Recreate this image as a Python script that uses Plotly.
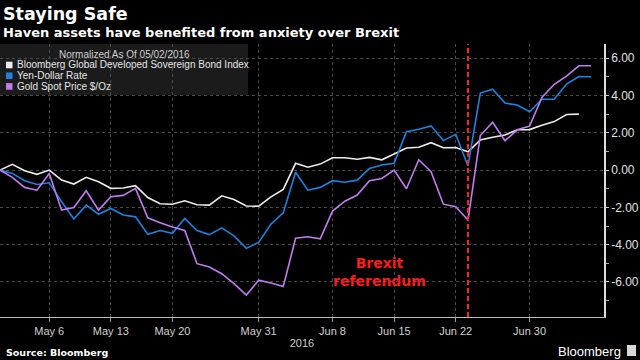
import plotly.graph_objects as go

# ---------------- data ----------------
dates = [
    "2016-05-02", "2016-05-03", "2016-05-04", "2016-05-05", "2016-05-06",
    "2016-05-09", "2016-05-10", "2016-05-11", "2016-05-12", "2016-05-13",
    "2016-05-16", "2016-05-17", "2016-05-18", "2016-05-19", "2016-05-20",
    "2016-05-23", "2016-05-24", "2016-05-25", "2016-05-26", "2016-05-27",
    "2016-05-30", "2016-05-31", "2016-06-01", "2016-06-02", "2016-06-03",
    "2016-06-06", "2016-06-07", "2016-06-08", "2016-06-09", "2016-06-10",
    "2016-06-13", "2016-06-14", "2016-06-15", "2016-06-16", "2016-06-17",
    "2016-06-20", "2016-06-21", "2016-06-22", "2016-06-23", "2016-06-24",
    "2016-06-27", "2016-06-28", "2016-06-29", "2016-06-30", "2016-07-01",
    "2016-07-04", "2016-07-05", "2016-07-06", "2016-07-07",
]

bond_index = [
    0.00, 0.31, -0.04, -0.23, 0.00, -0.54, -0.75, -0.39, -0.63, -0.98,
    -0.96, -0.84, -1.47, -1.81, -1.83, -1.65, -1.86, -1.88, -1.38, -1.58,
    -1.93, -1.94, -1.44, -1.04, 0.36, 0.15, 0.32, 0.66, 0.66, 0.58,
    0.68, 0.55, 0.86, 1.18, 1.22, 1.47, 1.20, 1.21, 0.98, 1.61,
    1.76, 1.88, 2.16, 2.17, 2.40, 2.60, 2.98, 3.00, None,
]

yen_dollar = [
    0.00, -0.18, -0.57, -0.77, -0.68, -1.70, -2.62, -1.88, -2.37, -2.06,
    -2.41, -2.51, -3.44, -3.24, -3.39, -2.60, -3.24, -3.46, -3.10, -3.53,
    -4.20, -3.88, -2.90, -2.29, -0.12, -1.08, -0.93, -0.57, -0.65, -0.54,
    0.09, 0.27, 0.36, 2.06, 2.19, 2.37, 1.58, 1.92, 0.22, 4.13,
    4.34, 3.59, 3.49, 3.13, 3.80, 3.80, 4.61, 5.02, 5.00,
]

gold_spot = [
    0.00, -0.39, -0.93, -1.08, -0.18, -2.15, -2.01, -1.11, -2.15, -1.43,
    -1.36, -0.98, -2.56, -2.83, -3.05, -3.24, -5.02, -5.20, -5.56, -6.09,
    -6.70, -5.91, -6.06, -6.24, -3.66, -3.58, -3.69, -2.20, -1.67, -1.34,
    -0.57, -0.45, 0.00, -1.00, 0.55, -0.09, -1.83, -1.97, -2.68, 1.85,
    2.56, 1.57, 2.16, 2.36, 3.89, 4.60, 5.04, 5.59, 5.59,
]

series_names = [
    "Bloomberg Global Developed Sovereign Bond Index",
    "Yen-Dollar Rate",
    "Gold Spot Price $/Oz",
]
series_colors = ["#ececec", "#1a84e0", "#c27cf0"]

x_tick_vals = ["2016-05-06", "2016-05-13", "2016-05-20", "2016-05-31",
               "2016-06-08", "2016-06-15", "2016-06-22", "2016-06-30"]
x_tick_text = ["May 6", "May 13", "May 20", "May 31",
               "Jun 8", "Jun 15", "Jun 22", "Jun 30"]
y_tick_vals = [-6, -4, -2, 0, 2, 4, 6]
y_tick_text = ["-6.00", "-4.00", "-2.00", "0.00", "2.00", "4.00", "6.00"]
y_minor_vals = [-7, -5, -3, -1, 1, 3, 5]
brexit_date = "2016-06-23"

title = "Staying Safe"
subtitle = "Haven assets have benefited from anxiety over Brexit"
legend_title = "Normalized As Of 05/02/2016"
source_text = "Source: Bloomberg"

# ---------------- geometry helpers ----------------
W, H = 640, 360
L, R, T, B = 0, 604, 44, 317


def px(x):
    return (x - L) / (R - L)


def py(y):
    return (B - y) / (B - T)


fig = go.Figure()
for vals, name, col in zip([bond_index, yen_dollar, gold_spot], series_names, series_colors):
    fig.add_trace(go.Scatter(
        x=dates, y=vals, name=name, mode="lines",
        line=dict(color=col, width=1.6), showlegend=False,
        connectgaps=False,
    ))

shapes = []
annotations = []

# legend box (manual, to match compact Bloomberg legend)
shapes.append(dict(type="rect", xref="paper", yref="paper",
                   x0=px(0), x1=px(248), y0=py(95), y1=py(44),
                   fillcolor="rgba(30,30,30,0.9)", line=dict(width=0), layer="below"))
annotations.append(dict(xref="paper", yref="paper", x=px(124), y=py(55),
                        text=legend_title, showarrow=False, xanchor="center", yanchor="middle",
                        font=dict(family="Liberation Sans", size=10, color="#d0d0d0")))
row_y = [65, 75.7, 86.4]
for name, col, ry in zip(series_names, series_colors, row_y):
    shapes.append(dict(type="rect", xref="paper", yref="paper",
                       x0=px(6), x1=px(12.5), y0=py(ry + 3.3), y1=py(ry - 3.3),
                       fillcolor=col, line=dict(width=0), layer="above"))
    annotations.append(dict(xref="paper", yref="paper", x=px(14.5), y=py(ry),
                            text=name, showarrow=False, xanchor="left", yanchor="middle",
                            font=dict(family="Liberation Sans", size=10, color="#e6e6e6")))

# Brexit referendum line
shapes.append(dict(type="line", xref="x", yref="paper", x0=brexit_date, x1=brexit_date,
                   y0=0, y1=1, line=dict(color="#ff1f2f", width=2, dash="5px,3px"), layer="above"))
annotations.append(dict(xref="paper", yref="paper", x=px(379), y=py(272),
                        text="<b>Brexit<br>referendum</b>", showarrow=False,
                        xanchor="center", yanchor="middle", align="center",
                        font=dict(family="DejaVu Sans", size=14, color="#ff1a1a")))

# titles
annotations.append(dict(xref="paper", yref="paper", x=px(1), y=py(14),
                        text="<b>" + title + "</b>", showarrow=False, xanchor="left", yanchor="middle",
                        font=dict(family="DejaVu Sans", size=17.5, color="#ffffff")))
annotations.append(dict(xref="paper", yref="paper", x=px(1), y=py(33),
                        text="<b>" + subtitle + "</b>", showarrow=False, xanchor="left", yanchor="middle",
                        font=dict(family="DejaVu Sans", size=13, color="#ffffff")))
# footer
annotations.append(dict(xref="paper", yref="paper", x=px(4), y=py(352),
                        text="<b>" + source_text + "</b>", showarrow=False, xanchor="left", yanchor="middle",
                        font=dict(family="DejaVu Sans", size=9.5, color="#ffffff")))
annotations.append(dict(xref="paper", yref="paper", x=px(623), y=py(351),
                        text="Bloomberg", showarrow=False, xanchor="right", yanchor="middle",
                        font=dict(family="Liberation Sans", size=13, color="#ffffff")))
shapes.append(dict(type="rect", xref="paper", yref="paper",
                   x0=px(627), x1=px(636), y0=py(356), y1=py(345),
                   fillcolor="#d8d8d8", line=dict(width=0), layer="above"))

fig.update_layout(
    width=W, height=H,
    margin=dict(l=L, r=W - R, t=T, b=H - B, pad=0),
    paper_bgcolor="#000000", plot_bgcolor="rgba(0,0,0,0)",
    showlegend=False,
    shapes=shapes, annotations=annotations,
    font=dict(family="Liberation Sans", color="#d0d0d0"),
)

fig.update_xaxes(
    type="date",
    range=["2016-05-02", "2016-07-08 01:00"],
    rangebreaks=[dict(bounds=["sat", "mon"])],
    tickmode="array", tickvals=x_tick_vals, ticktext=x_tick_text,
    tickfont=dict(family="Liberation Sans", size=11, color="#d0d0d0"),
    ticks="outside", ticklen=4, tickcolor="#9a9a9a",
    showgrid=True, gridcolor="#4a4a4a", griddash="dot", gridwidth=1,
    showline=True, linecolor="#bbbbbb", linewidth=1,
    zeroline=False,
    title=dict(text="2016", standoff=3, font=dict(family="Liberation Sans", size=11, color="#d0d0d0")),
)

fig.update_yaxes(
    side="right",
    range=[-7.88, 6.76],
    tickmode="array", tickvals=y_tick_vals, ticktext=y_tick_text,
    tickfont=dict(family="Liberation Sans", size=12, color="#e0e0e0"),
    ticks="outside", ticklen=3, tickcolor="#cccccc",
    minor=dict(tickmode="array", tickvals=y_minor_vals, ticklen=3, tickcolor="#aaaaaa", showgrid=False),
    showgrid=True, gridcolor="#4a4a4a", griddash="dot", gridwidth=1,
    showline=True, linecolor="#dddddd", linewidth=1.5,
    zeroline=False,
)

fig.write_html("out.html", config={"displayModeBar": False},
               post_script="document.body.style.margin='0';")
